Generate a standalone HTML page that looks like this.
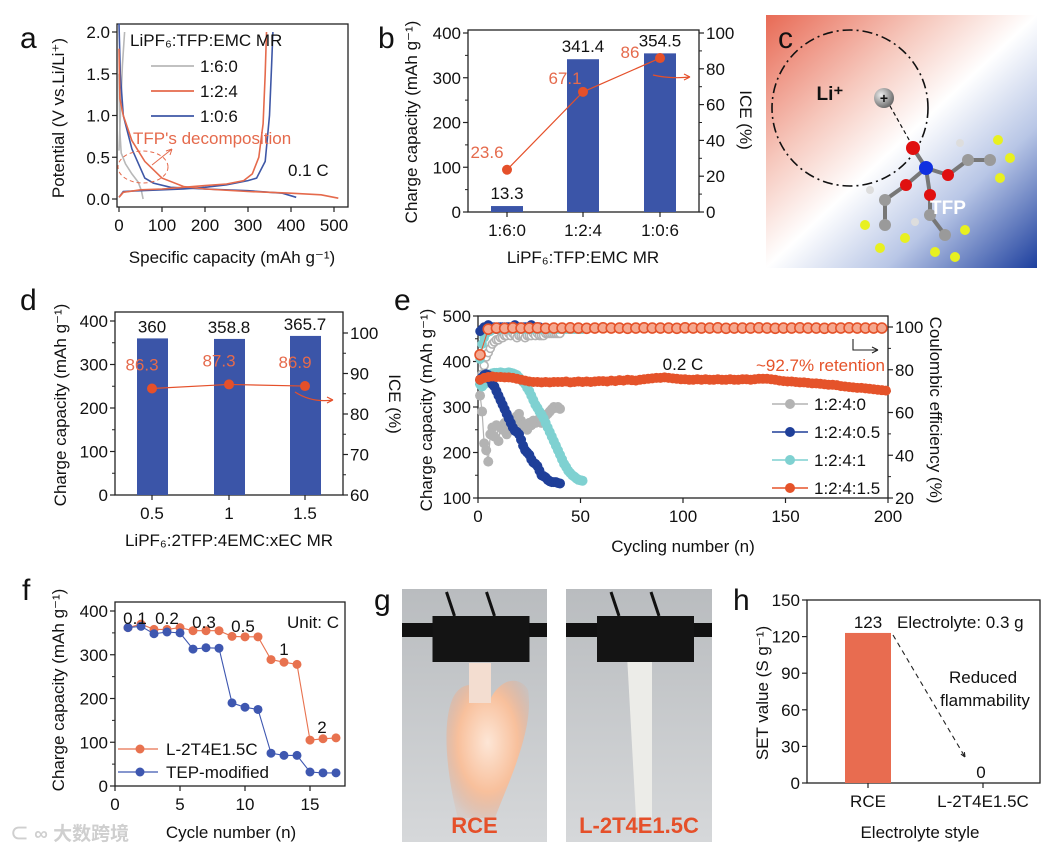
<!DOCTYPE html>
<html><head><meta charset="utf-8">
<style>
html,body{margin:0;padding:0;background:#fff;}
svg{display:block;font-family:"Liberation Sans","Noto Sans CJK SC",sans-serif;}
</style></head>
<body>
<svg id="fig" width="1041" height="852" viewBox="0 0 1041 852" xmlns="http://www.w3.org/2000/svg">
<defs>
<linearGradient id="cgrad" x1="0" y1="0" x2="1" y2="1">
<stop offset="0" stop-color="#e86a55"/><stop offset="0.3" stop-color="#f6c8bd"/><stop offset="0.5" stop-color="#ffffff"/><stop offset="0.72" stop-color="#b8c6e6"/><stop offset="1" stop-color="#1d3f9e"/>
</linearGradient>
<radialGradient id="ball" cx="0.35" cy="0.35" r="0.7"><stop offset="0" stop-color="#eee"/><stop offset="1" stop-color="#666"/></radialGradient>
<linearGradient id="photoBg" x1="0" y1="0" x2="0" y2="1"><stop offset="0" stop-color="#b9bcbf"/><stop offset="1" stop-color="#d6d8da"/></linearGradient>
<radialGradient id="flame" cx="0.5" cy="0.45" r="0.6"><stop offset="0" stop-color="#fde6d6"/><stop offset="0.6" stop-color="#f8c09c"/><stop offset="1" stop-color="#e8a888" stop-opacity="0.2"/></radialGradient>
</defs>
</svg>
<script>
// ---------- DATA ----------
const aOrangeDis=[[0,1.8],[2,1.2],[10,1.0],[30,0.7],[60,0.45],[100,0.25],[150,0.15],[200,0.12],[300,0.09],[400,0.07],[470,0.05],[510,0.01]];
const aOrangeChg=[[0,0.02],[10,0.08],[50,0.11],[100,0.12],[150,0.14],[200,0.16],[250,0.18],[290,0.22],[310,0.3],[325,0.5],[335,0.9],[340,1.5],[343,2.0]];
const aBlueDis=[[0,2.1],[3,1.5],[10,1.0],[30,0.6],[60,0.25],[80,0.19],[120,0.14],[200,0.12],[300,0.1],[380,0.07],[412,0.02]];
const aBlueChg=[[0,0.02],[10,0.09],[50,0.1],[100,0.11],[150,0.12],[200,0.14],[250,0.17],[300,0.22],[320,0.25],[340,0.45],[350,1.0],[355,1.6],[358,2.0]];
const aGrayDis=[[0,1.5],[2,0.8],[5,0.55],[15,0.42],[30,0.3],[45,0.2],[52,0.1],[56,0.0]];
const aGrayChg=[[0,0.58],[4,1.1],[8,1.6],[13,2.0]];
const bCats=["1:6:0","1:2:4","1:0:6"];
const bCap=[13.3,341.4,354.5];
const bIce=[23.6,67.1,86];
const dCats=["0.5","1","1.5"];
const dCap=[360,358.8,365.7];
const dIce=[86.3,87.3,86.9];
const eGrayCap=[325,290,220,205,180,240,255,235,260,225,255,250,265,240,270,260,275,265,280,285,270,260,255,250,265,260,270,265,270,275,265,270,280,285,290,295,300,298,300,296];
const eGrayCE=[75,78,82,86,88,90,92,93,94,94,95,95,96,96,97,96,97,96,95,96,96,96,95,96,96,96,97,96,97,96,96,96,97,97,97,97,97,97,97,97];
const eBlueCap=[360,365,370,372,370,360,350,345,335,325,315,305,295,285,275,265,255,248,245,240,228,215,205,200,195,185,178,175,170,160,150,148,145,140,137,135,135,135,133,132];
const eBlueCE=[98,99,100,100,101,100,100,100,99,100,100,100,100,100,100,100,100,101,100,100,100,100,100,100,100,101,100,100,100,100];
const eCyanCap=[350,345,350,365,370,372,374,375,375,375,376,375,374,375,376,375,374,372,370,365,360,355,350,342,335,325,315,305,298,290,283,275,265,255,245,235,225,215,205,195,185,175,168,160,155,150,147,143,140,139,138];
const eCyanCE=[85,92,95,97,98,98,99,99,99,99,99,99,99,99,99,99,99,99,99,99,99,99,99,99,99,99,99,99,99,99,99,99,99,99,99,99,99,99,99,99,99,99,99,99,99,99,99,99,99,99,99];
const eOrangeCap=[360,364,366,367,366,366,365,365,364,362,360,358,356,355,355,354,355,354,355,355,355,356,354,355,356,355,356,355,356,357,357,356,358,357,359,358,360,359,358,360,361,362,363,364,364,365,364,363,362,361,361,360,360,361,360,361,360,360,361,360,360,361,360,360,361,361,360,361,362,362,362,361,360,358,357,356,356,355,354,354,353,352,352,351,350,349,349,348,346,345,344,343,342,342,341,340,339,338,337,336];
const eOrangeCE=[87,99,99.5,99.4,99.6,99.5,99.5,99.6,99.4,99.5,99.5,99.6,99.5,99.4,99.5,99.6,99.5,99.5,99.4,99.5,99.6,99.5,99.5,99.5,99.4,99.6,99.5,99.5,99.5,99.6,99.4,99.5,99.5,99.5,99.6,99.5,99.4,99.5,99.5,99.6,99.5,99.5,99.4,99.5,99.5,99.6,99.5,99.5,99.5,99.5];
const fCycles=[1,2,3,4,5,6,7,8,9,10,11,12,13,14,15,16,17];
const fL2T=[362,370,358,358,362,355,355,355,342,341,341,289,283,278,105,108,110];
const fTEP=[362,365,348,352,350,313,316,315,190,180,175,75,70,70,32,30,30];
const hCats=["RCE","L-2T4E1.5C"];
const hVals=[123,0];

// ---------- helpers ----------
const NS="http://www.w3.org/2000/svg";
const svg=document.getElementById('fig');
function mk(tag,attrs,parent){const e=document.createElementNS(NS,tag);for(const k in attrs)e.setAttribute(k,attrs[k]);(parent||svg).appendChild(e);return e;}
function lin(d0,d1,r0,r1){return v=>r0+(v-d0)*(r1-r0)/(d1-d0);}
function txt(x,y,s,size,opts,parent){opts=opts||{};const t=mk('text',{x:x,y:y,'font-size':size,fill:opts.fill||'#111','text-anchor':opts.anchor||'middle','font-weight':opts.weight||'normal'},parent);if(opts.rot)t.setAttribute('transform','rotate('+opts.rot+' '+x+' '+y+')');t.textContent=s;return t;}
function group(name){const g=mk('g',{});return g;}
function frame(g,x0,y0,x1,y1){const r=mk('rect',{x:x0,y:y0,width:x1-x0,height:y1-y0,fill:'none',stroke:'#222','stroke-width':1.3},g);}
function yTicks(g,sc,vals,x,side,minor,labels){
  const maxV=Math.max(...vals);
  vals.forEach((v,i)=>{const y=sc(v);const dx=side==='left'?-5:5;
    const l=mk('line',{x1:x,x2:x+dx,y1:y,y2:y,stroke:'#222','stroke-width':1.2},g);
    
    const t=txt(side==='left'?x-7:x+7,y+6,labels?labels[i]:String(v),17,{anchor:side==='left'?'end':'start'},g);
    
    if(minor&&v+minor<maxV){const ym=sc(v+minor);const m=mk('line',{x1:x,x2:x+dx*0.6,y1:ym,y2:ym,stroke:'#222','stroke-width':1},g);}
  });}
function xTicks(g,sc,vals,y,labels){
  vals.forEach((v,i)=>{const x=sc(v);
    const l=mk('line',{x1:x,x2:x,y1:y,y2:y+5,stroke:'#222','stroke-width':1.2},g);
    
    const t=txt(x,y+24,labels?labels[i]:String(v),17,{},g);
    });}
function pathFrom(pts,sx,sy){return pts.map((p,i)=>(i?'L':'M')+sx(p[0]).toFixed(1)+','+sy(p[1]).toFixed(1)).join(' ');}
function letter(s,x,y){const t=txt(x,y,s,30,{anchor:'start'});}

// ---------- panel a ----------
(function(){
const g=group('panel-a');
const sx=lin(0,500,119,334), sy=lin(0,2,199,32);
frame(g,117,24,348,207);
yTicks(g,sy,[0,0.5,1,1.5,2],117,'left',0,['0.0','0.5','1.0','1.5','2.0']);
xTicks(g,sx,[0,100,200,300,400,500],207);
const series=[[aGrayDis,'#b8b8b8','gray-discharge'],[aGrayChg,'#b8b8b8','gray-charge'],[aBlueDis,'#3e57a6','blue-discharge'],[aBlueChg,'#3e57a6','blue-charge'],[aOrangeDis,'#e56a4c','orange-discharge'],[aOrangeChg,'#e56a4c','orange-charge']];
series.forEach(s=>{const p=mk('path',{d:pathFrom(s[0],sx,sy),fill:'none',stroke:s[1],'stroke-width':1.6},g);});
let t=txt(64,118,'Potential (V vs.Li/Li⁺)',17,{rot:-90},g);
t=txt(232,263,'Specific capacity (mAh g⁻¹)',17,{},g);
t=txt(130,46,'LiPF₆:TFP:EMC MR',17,{anchor:'start'},g);
[['1:6:0','#b8b8b8',72],['1:2:4','#e56a4c',97],['1:0:6','#3e57a6',122]].forEach(l=>{
 const ln=mk('line',{x1:151,x2:194,y1:l[2]-6,y2:l[2]-6,stroke:l[1],'stroke-width':1.8},g);
 const tt=txt(200,l[2],l[0],17,{anchor:'start'},g);});
t=txt(133,144,"TFP's decomposition",17,{anchor:'start',fill:'#e56a4c'},g);
const e=mk('ellipse',{cx:143,cy:167,rx:25,ry:16,fill:'none',stroke:'#e56a4c','stroke-dasharray':'4,3','stroke-width':1},g);
const ar=mk('path',{d:'M152,165 L172,149 M172,149 L166,151 M172,149 L170,155',stroke:'#e56a4c',fill:'none','stroke-width':1},g);
t=txt(288,176,'0.1 C',17,{anchor:'start'},g);
letter('a',20,48);
})();

// ---------- panel b ----------
(function(){
const g=group('panel-b');
const sy=lin(0,400,212,33), sr=lin(0,100,212,33);
const xs=[507,583,660];
frame(g,468,30,699,212);
yTicks(g,sy,[0,100,200,300,400],468,'left',50);
yTicks(g,sr,[0,20,40,60,80,100],699,'right',10);
xTicks(g,i=>xs[i],[0,1,2],212,bCats);
bCap.forEach((v,i)=>{const r=mk('rect',{x:xs[i]-16,y:sy(v),width:32,height:212-sy(v),fill:'#3b55a8'},g);
 const t=txt(xs[i],sy(v)-7,String(v),17,{},g);});
const ln=mk('path',{d:bIce.map((v,i)=>(i?'L':'M')+xs[i]+','+sr(v)).join(' '),fill:'none',stroke:'#e5502a','stroke-width':1.2},g);
const offs=[[-20,-12],[-18,-8],[-30,0]];
bIce.forEach((v,i)=>{const c=mk('circle',{cx:xs[i],cy:sr(v),r:5,fill:'#e5502a'},g);
 const t=txt(xs[i]+offs[i][0],sr(v)+offs[i][1],String(v),17,{fill:'#e56a4c'},g);});
const ar=mk('path',{d:'M653,75 Q670,79 690,77 M690,77 L684,74 M690,77 L684,80',fill:'none',stroke:'#e5502a','stroke-width':1.2},g);
let t=txt(417,122,'Charge capacity (mAh g⁻¹)',17,{rot:-90},g);
t=txt(740,120,'ICE (%)',17,{rot:90},g);
t=txt(583,263,'LiPF₆:TFP:EMC MR',17,{},g);
letter('b',378,48);
})();

// ---------- panel c ----------
(function(){
const g=group('panel-c');
const r=mk('rect',{x:766,y:15,width:271,height:253,fill:'url(#cgrad)'},g);
const c=mk('circle',{cx:850,cy:108,r:78,fill:'none',stroke:'#111','stroke-width':1.6,'stroke-dasharray':'10,4,2,4'},g);
let t=txt(830,100,'Li⁺',19,{weight:'bold'},g);
const b=mk('circle',{cx:884,cy:98,r:10,fill:'url(#ball)'},g);
t=txt(884,103,'+',14,{weight:'bold'},g);
const d=mk('line',{x1:890,y1:106,x2:912,y2:145,stroke:'#111','stroke-dasharray':'4,3','stroke-width':1.2},g);
const bonds=[[913,148,926,168],[926,168,906,185],[926,168,948,175],[926,168,930,195],[906,185,885,200],[948,175,968,160],[930,195,930,215],[885,200,885,225],[968,160,990,160],[930,215,945,235]];
bonds.forEach(s=>{const l=mk('line',{x1:s[0],y1:s[1],x2:s[2],y2:s[3],stroke:'#777','stroke-width':4},g);});
const atoms=[[913,148,7,'#e01010'],[926,168,7,'#1030e0'],[906,185,6,'#e01010'],[948,175,6,'#e01010'],[930,195,6,'#e01010'],[885,200,6,'#9a9a9a'],[968,160,6,'#9a9a9a'],[930,215,6,'#9a9a9a'],[885,225,6,'#9a9a9a'],[990,160,6,'#9a9a9a'],[945,235,6,'#9a9a9a'],[1010,158,5,'#e8f020'],[998,140,5,'#e8f020'],[1000,178,5,'#e8f020'],[865,225,5,'#e8f020'],[880,248,5,'#e8f020'],[905,238,5,'#e8f020'],[965,230,5,'#e8f020'],[955,257,5,'#e8f020'],[935,252,5,'#e8f020'],[960,143,4,'#ddd'],[870,190,4,'#ddd'],[915,222,4,'#ddd']];
atoms.forEach(a=>{const e=mk('circle',{cx:a[0],cy:a[1],r:a[2],fill:a[3]},g);});
t=txt(948,214,'TFP',19,{weight:'bold',fill:'#fff'},g);
letter('c',778,48);
})();

// ---------- panel d ----------
(function(){
const g=group('panel-d');
const sy=lin(0,400,495,321), sr=lin(60,100,495,333);
const xs=[152,229,305];
frame(g,115,312,343,495);
yTicks(g,sy,[0,100,200,300,400],115,'left',50);
yTicks(g,sr,[60,70,80,90,100],343,'right',5);
xTicks(g,i=>xs[i],[0,1,2],495,dCats);
dCap.forEach((v,i)=>{const r=mk('rect',{x:xs[i]-15,y:sy(v),width:31,height:495-sy(v),fill:'#3b55a8'},g);
 const t=txt(xs[i],sy(v)-6,String(v),17,{},g);});
const ln=mk('path',{d:dIce.map((v,i)=>(i?'L':'M')+xs[i]+','+sr(v)).join(' '),fill:'none',stroke:'#e5502a','stroke-width':1.2},g);
dIce.forEach((v,i)=>{const c=mk('circle',{cx:xs[i],cy:sr(v),r:5,fill:'#e5502a'},g);
 const t=txt(xs[i]-10,sr(v)-18,String(v),17,{fill:'#e56a4c'},g);});
const ar=mk('path',{d:'M295,392 Q312,403 333,400 M333,400 L327,397 M333,400 L327,403',fill:'none',stroke:'#e5502a','stroke-width':1.2},g);
let t=txt(66,405,'Charge capacity (mAh g⁻¹)',17,{rot:-90},g);
t=txt(389,404,'ICE (%)',17,{rot:90},g);
t=txt(229,546,'LiPF₆:2TFP:4EMC:xEC MR',17,{},g);
letter('d',20,310);
})();

// ---------- panel e ----------
(function(){
const g=group('panel-e');
const sx=lin(0,200,478,888), sy=lin(100,500,498,316), sr=lin(20,100,498,327);
frame(g,478,316,888,498);
yTicks(g,sy,[100,200,300,400,500],478,'left',50);
yTicks(g,sr,[20,40,60,80,100],888,'right',10);
xTicks(g,sx,[0,50,100,150,200],498);
function series(cap,col,name,step,ceFill,ce,ceStep,ceR){
 const pts=cap.map((v,i)=>[1+i*step,v]);
 const p=mk('path',{d:pathFrom(pts,sx,sy),fill:'none',stroke:col,'stroke-width':1.2},g);
 pts.forEach(q=>{const c=mk('circle',{cx:sx(q[0]),cy:sy(q[1]),r:5,fill:col},g);});
 const cp=ce.map((v,i)=>[1+i*ceStep,v]);
 const p2=mk('path',{d:pathFrom(cp,sx,sr),fill:'none',stroke:col,'stroke-width':1},g);
 cp.forEach(q=>{const c=mk('circle',{cx:sx(q[0]),cy:sr(q[1]),r:ceR,fill:ceFill,stroke:col,'stroke-width':1.6},g);});
}
series(eGrayCap,'#b3b3b3','1-2-4-0',1,'#fff',eGrayCE,1,4);
series(eCyanCap,'#7fd1d1','1-2-4-1',1,'#7fd1d1',eCyanCE,1,4);
series(eBlueCap,'#1f3f99','1-2-4-0.5',1,'#1f3f99',eBlueCE,1,4);
series(eOrangeCap,'#e5532a','1-2-4-1.5',2,'#f5a88f',eOrangeCE,4,5);
let t=txt(432,410,'Charge capacity (mAh g⁻¹)',17,{rot:-90},g);
t=txt(930,410,'Coulombic efficiency (%)',17,{rot:90},g);
t=txt(683,552,'Cycling number (n)',17,{},g);
t=txt(683,370,'0.2 C',17,{},g);
t=txt(885,371,'~92.7% retention',17,{anchor:'end',fill:'#e5532a'},g);
const ar=mk('path',{d:'M853,339 L853,350 L878,350 M878,350 L872,347 M878,350 L872,353',fill:'none',stroke:'#222','stroke-width':1.1},g);
[['1:2:4:0','#b3b3b3',410],['1:2:4:0.5','#1f3f99',438],['1:2:4:1','#7fd1d1',466],['1:2:4:1.5','#e5532a',494]].forEach(l=>{
 const ln=mk('line',{x1:772,x2:808,y1:l[2]-6,y2:l[2]-6,stroke:l[1],'stroke-width':1.5},g);
 const c=mk('circle',{cx:790,cy:l[2]-6,r:5,fill:l[1]},g);
 const tt=txt(814,l[2],l[0],17,{anchor:'start'},g);});
letter('e',394,310);
})();

// ---------- panel f ----------
(function(){
const g=group('panel-f');
const sx=lin(0,15,115,310), sy=lin(0,400,786,611);
frame(g,115,602,345,786);
yTicks(g,sy,[0,100,200,300,400],115,'left',50);
xTicks(g,sx,[0,5,10,15],786);
[[fL2T,'#e8724f','l-2t4e1-5c'],[fTEP,'#3e57b0','tep-modified']].forEach(s=>{
 const pts=fCycles.map((c,i)=>[c,s[0][i]]);
 const p=mk('path',{d:pathFrom(pts,sx,sy),fill:'none',stroke:s[1],'stroke-width':1.1},g);
 pts.forEach(q=>{const c=mk('circle',{cx:sx(q[0]),cy:sy(q[1]),r:4.5,fill:s[1]},g);});});
[['0.1',135,624],['0.2',167,624],['0.3',204,628],['0.5',243,632],['1',284,655],['2',322,733]].forEach(r=>{const t=txt(r[1],r[2],r[0],17,{},g);});
let t=txt(339,628,'Unit: C',17,{anchor:'end'},g);
[['L-2T4E1.5C','#e8724f',755],['TEP-modified','#3e57b0',778]].forEach(l=>{
 const ln=mk('line',{x1:118,x2:158,y1:l[2]-6,y2:l[2]-6,stroke:l[1],'stroke-width':1.2},g);
 const c=mk('circle',{cx:140,cy:l[2]-6,r:4.5,fill:l[1]},g);
 const tt=txt(166,l[2],l[0],17,{anchor:'start'},g);});
t=txt(64,690,'Charge capacity (mAh g⁻¹)',17,{rot:-90},g);
t=txt(231,838,'Cycle number (n)',17,{},g);
t=txt(10,840,'⊂ ∞ 大数跨境',19,{anchor:'start',fill:'#cfcfcf',weight:'bold'},g);
letter('f',22,600);
})();

// ---------- panel g ----------
(function(){
const g=group('panel-g');
[[402,547,'RCE',true],[566,712,'L-2T4E1.5C',false]].forEach(p=>{
 const x0=p[0],x1=p[1],cx=(x0+x1)/2;
 const bg=mk('rect',{x:x0,y:589,width:x1-x0,height:253,fill:'url(#photoBg)'},g);
 if(p[3]){const f=mk('path',{d:'M452,700 C440,730 450,790 458,818 L495,818 C505,790 535,730 528,690 C520,675 500,678 490,700 C480,680 460,680 452,700 Z',fill:'url(#flame)'},g);
  const s=mk('rect',{x:469,y:663,width:22,height:40,fill:'#f3ddd0'},g);}
 else{const s=mk('path',{d:'M627,655 L652,655 L652,818 L636,818 Z',fill:'#ecece8'},g);}
 const bar=mk('rect',{x:x0,y:623,width:x1-x0,height:14,fill:'#111'},g);
 const clip=mk('rect',{x:cx-42,y:616,width:97,height:46,fill:'#141414'},g);
 const h=mk('path',{d:'M'+(cx-20)+',616 L'+(cx-28)+',592 M'+(cx+20)+',616 L'+(cx+12)+',592',stroke:'#111','stroke-width':3,fill:'none'},g);
 const t=txt(cx,833,p[2],22,{fill:'#e5502a',weight:'bold'},g);
});
letter('g',374,610);
})();

// ---------- panel h ----------
(function(){
const g=group('panel-h');
const sy=lin(0,150,783,600); const xs=[868,983];
frame(g,807,600,1040,783);
yTicks(g,sy,[0,30,60,90,120,150],807,'left');
xTicks(g,i=>xs[i],[0,1],783,hCats);
hVals.forEach((v,i)=>{const r=mk('rect',{x:xs[i]-23,y:sy(v),width:46,height:783-sy(v),fill:'#e86c50'},g);
 const t=txt(xs[i]-(i?2:0),sy(v)-5,String(v),17,{},g);});
const ar=mk('path',{d:'M893,635 L965,757 M965,757 L958,752 M965,757 L964,749',fill:'none',stroke:'#222','stroke-width':1.1,'stroke-dasharray':'5,4'},g);
let t=txt(897,628,'Electrolyte: 0.3 g',17,{anchor:'start'},g);
t=txt(983,683,'Reduced',17,{},g);
t=txt(985,706,'flammability',17,{},g);
t=txt(768,693,'SET value (S g⁻¹)',17,{rot:-90},g);
t=txt(920,838,'Electrolyte style',17,{},g);
letter('h',733,610);
})();
</script>
</body></html>
